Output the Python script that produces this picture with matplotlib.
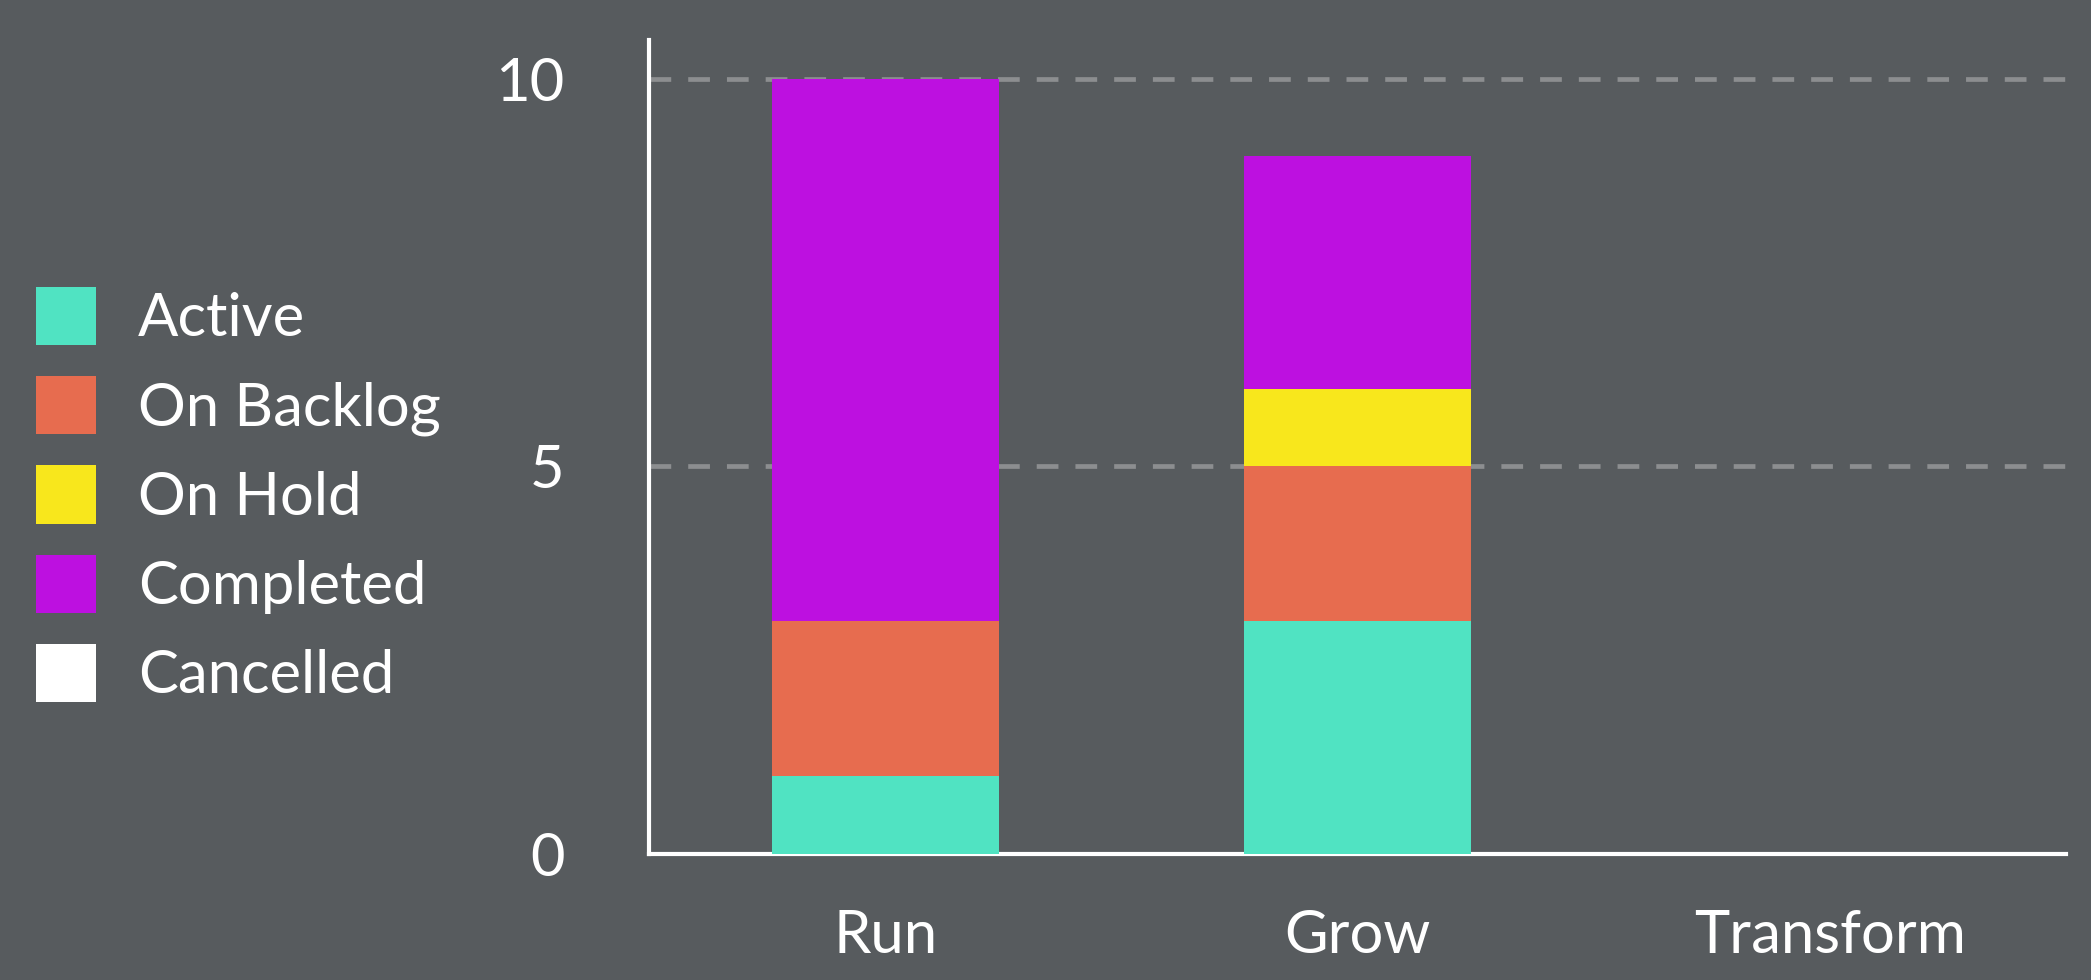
import matplotlib.pyplot as plt
import numpy as np
from matplotlib.patches import Patch

plt.rcParams['font.family'] = ['Lato', 'DejaVu Sans']

categories = ['Run', 'Grow', 'Transform']
statuses = ['Active', 'On Backlog', 'On Hold', 'Completed', 'Cancelled']
active = [1, 3, 0]
on_backlog = [2, 2, 0]
on_hold = [0, 1, 0]
completed = [7, 3, 0]
cancelled = [0, 0, 0]
colors = ['#50E3C2', '#E76C4F', '#F8E71C', '#BD10E0', '#FFFFFF']

bg = '#575B5E'
fig = plt.figure(figsize=(20.91, 9.80), dpi=100, facecolor=bg)
ax = fig.add_axes([0.3104, 0.129, 0.6776, 0.83])
ax.set_facecolor(bg)

x = np.arange(len(categories))
bottom = np.zeros(len(categories))
for vals, col in zip([active, on_backlog, on_hold, completed, cancelled], colors):
    ax.bar(x, vals, width=0.48, bottom=bottom, color=col, zorder=3)
    bottom += np.array(vals)

ax.set_xlim(-0.5, 2.5)
ax.set_ylim(0, 10.5)
ax.set_yticks([0, 5, 10])
ax.set_xticks(x)
ax.set_xticklabels(categories)

for side in ['top', 'right']:
    ax.spines[side].set_visible(False)
for side in ['left', 'bottom']:
    ax.spines[side].set_color('white')
    ax.spines[side].set_linewidth(3)

ax.tick_params(axis='both', length=0, colors='white', labelsize=43)
ax.tick_params(axis='y', pad=61)
ax.tick_params(axis='x', pad=40)

# Сетка
ax.grid(axis='y')
ax.tick_params(axis='y', grid_color='#8C8E90', grid_linewidth=3.4,
               grid_linestyle=(0, (4.6, 3.6)))
ax.set_axisbelow(True)

handles = [Patch(facecolor=c, edgecolor='none') for c in colors]
leg = fig.legend(handles, statuses, loc='center left', bbox_to_anchor=(0.003, 0.495),
                 frameon=False, fontsize=43, handlelength=1.0, handleheight=1.12,
                 handletextpad=0.7, labelspacing=0.50, borderpad=0)
for t in leg.get_texts():
    t.set_color('white')

plt.savefig('out.png', dpi=100, facecolor=bg)
